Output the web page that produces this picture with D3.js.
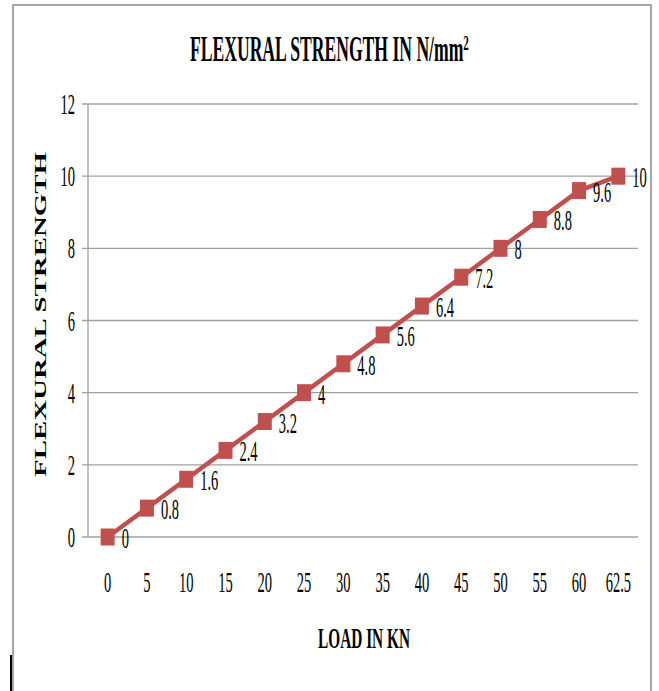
<!DOCTYPE html>
<html><head><meta charset="utf-8">
<script src="https://cdn.jsdelivr.net/npm/d3@7"></script>
<style>body{margin:0;background:#fff}svg{display:block}</style>
</head><body>
<svg id="c" width="659" height="691"></svg>
<script>
const loads = ["0","5","10","15","20","25","30","35","40","45","50","55","60","62.5"];
const strength = [0,0.8,1.6,2.4,3.2,4,4.8,5.6,6.4,7.2,8,8.8,9.6,10];
const yTicks = [0,2,4,6,8,10,12];
const titleText = "FLEXURAL STRENGTH IN N/mm";
const titleSup = "2";
const xTitle = "LOAD IN KN";
const yTitle = "FLEXURAL STRENGTH";

(function(){
const svg = d3.select("#c");
const serif = "'Liberation Serif','Times New Roman',serif";
const color = "#C0504D";
const pL = 88, pR = 638, pT = 104, pB = 537;
const sx = 0.5, fs = 29;

// frame
svg.append("path").attr("d","M13,691 V5 H651 V691").attr("fill","none").attr("stroke","#a6a6a6").attr("stroke-width",2);
svg.append("line").attr("x1",11).attr("x2",11).attr("y1",655).attr("y2",691).attr("stroke","#000").attr("stroke-width",2);

const x = d3.scalePoint().domain(loads).range([pL, pR]).padding(0.5);
const y = d3.scaleLinear().domain([0,12]).range([pB, pT]);

// gridlines
svg.append("g").selectAll("line").data(yTicks).join("line")
  .attr("x1", pL - 6).attr("x2", pR).attr("y1", d=>y(d)).attr("y2", d=>y(d))
  .attr("stroke","#a0a0a0").attr("stroke-width",1.3);
svg.append("line").attr("x1",pL).attr("x2",pL).attr("y1",pT).attr("y2",pB)
  .attr("stroke","#a0a0a0").attr("stroke-width",1.3);

// y tick labels
svg.append("g").selectAll("text").data(yTicks).join("text")
  .attr("transform", d=>`translate(75,${y(d)+10}) scale(${sx},1)`)
  .attr("text-anchor","end").attr("font-family",serif).attr("font-size",fs).text(d=>d);

// x tick labels
svg.append("g").selectAll("text").data(loads).join("text")
  .attr("transform", d=>`translate(${x(d)},${592}) scale(${sx},1)`)
  .attr("text-anchor","middle").attr("font-family",serif).attr("font-size",fs).text(d=>d);

// line
const pts = loads.map((l,i)=>({l, v: strength[i]}));
svg.append("path").datum(pts)
  .attr("d", d3.line().x(d=>x(d.l)).y(d=>y(d.v)))
  .attr("fill","none").attr("stroke",color).attr("stroke-width",4.5);

// markers
svg.append("g").selectAll("rect").data(pts).join("rect")
  .attr("x", d=>x(d.l)-7).attr("y", d=>y(d.v)-8.5).attr("width",14).attr("height",17)
  .attr("fill",color);

// data labels
svg.append("g").selectAll("text").data(pts).join("text")
  .attr("transform", d=>`translate(${x(d.l)+14},${y(d.v)+11}) scale(${sx},1)`)
  .attr("font-family",serif).attr("font-size",fs).text(d=>d.v);

// title (single text with superscript, compressed horizontally)
const t = svg.append("text").attr("font-family",serif).attr("font-weight","bold").attr("font-size",35);
t.append("tspan").text(titleText);
t.append("tspan").text(titleSup).attr("font-size",22).attr("dy",-11);
const w = t.node().getComputedTextLength() || 500;
t.attr("transform",`translate(190,61) scale(${279/w},1)`);

// x title
svg.append("text").attr("x",318).attr("y",648)
  .attr("font-family",serif).attr("font-weight","bold").attr("font-size",29)
  .attr("textLength",92).attr("lengthAdjust","spacingAndGlyphs").text(xTitle);

// y title
svg.append("text").attr("transform","translate(46,477) rotate(-90)")
  .attr("font-family",serif).attr("font-weight","bold").attr("font-size",16)
  .attr("textLength",325).attr("lengthAdjust","spacingAndGlyphs").text(yTitle);
})();
</script>
</body></html>
